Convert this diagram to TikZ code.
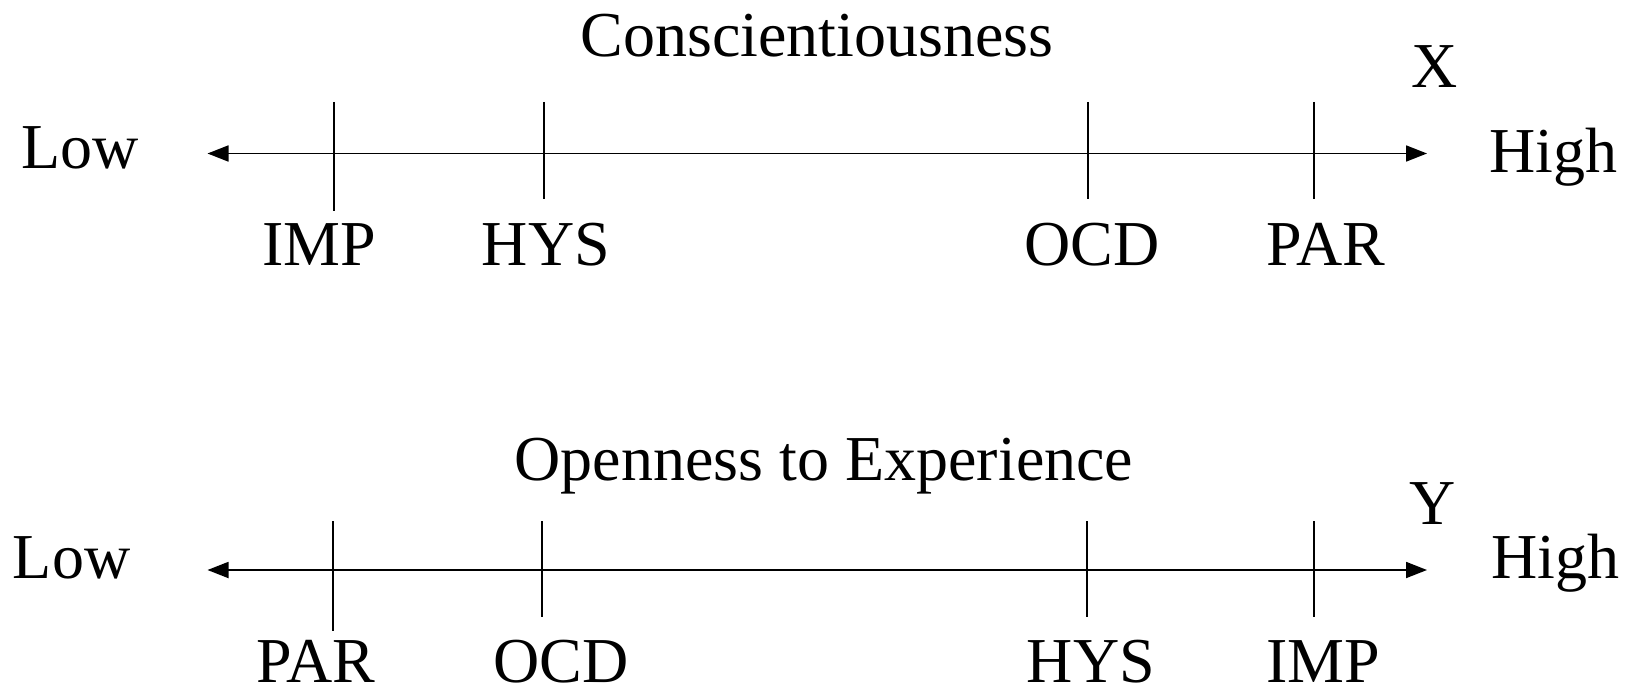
\documentclass[tikz,border=0pt]{standalone}
\usepackage{fontspec}
\setmainfont{Liberation Serif}
\usetikzlibrary{arrows.meta}
\begin{document}
\begin{tikzpicture}[x=0.5pt,y=-0.5pt,
  lbl/.style={anchor=base,inner sep=0pt,font=\fontsize{32}{38}\selectfont},
  lblw/.style={anchor=base west,inner sep=0pt,font=\fontsize{32}{38}\selectfont},
  axisline/.style={line width=0.9pt,{Triangle[length=10.5pt,width=8pt]}-{Triangle[length=10.5pt,width=8pt]}},
  tick/.style={line width=0.9pt}]
\useasboundingbox (0,0) rectangle (1627,690);
% ---- Top scale ----
\node[lbl] (title1) at (817,57) {Conscientiousness};
\node[lbl] (X) at (1435,88) {X};
\node[lblw] (low1) at (21,169) {Low};
\node[lblw] (high1) at (1489,172) {High};
\coordinate (a1) at (207.5,153.5);
\coordinate (b1) at (1427,153.5);
\draw[axisline] (a1) -- (b1);
\coordinate (t1a) at (334,102); \coordinate (t1b) at (334,211);
\coordinate (t2a) at (544,102); \coordinate (t2b) at (544,199);
\coordinate (t3a) at (1088,102); \coordinate (t3b) at (1088,199);
\coordinate (t4a) at (1314,102); \coordinate (t4b) at (1314,199);
\draw[tick] (t1a) -- (t1b);
\draw[tick] (t2a) -- (t2b);
\draw[tick] (t3a) -- (t3b);
\draw[tick] (t4a) -- (t4b);
\node[lbl] (imp1) at (319,265) {IMP};
\node[lbl] (hys1) at (546,265) {HYS};
\node[lbl] (ocd1) at (1092,265) {OCD};
\node[lbl] (par1) at (1326,265) {PAR};
% ---- Bottom scale ----
\node[lbl] (title2) at (824,480) {Openness to Experience};
\node[lbl] (Y) at (1433,524) {Y};
\node[lblw] (low2) at (12.5,578) {Low};
\node[lblw] (high2) at (1491,578) {High};
\coordinate (a2) at (207.5,570);
\coordinate (b2) at (1427,570);
\draw[axisline] (a2) -- (b2);
\coordinate (u1a) at (333,521); \coordinate (u1b) at (333,631);
\coordinate (u2a) at (542,521); \coordinate (u2b) at (542,617);
\coordinate (u3a) at (1087,521); \coordinate (u3b) at (1087,617);
\coordinate (u4a) at (1314,521); \coordinate (u4b) at (1314,617);
\draw[tick] (u1a) -- (u1b);
\draw[tick] (u2a) -- (u2b);
\draw[tick] (u3a) -- (u3b);
\draw[tick] (u4a) -- (u4b);
\node[lbl] (par2) at (316,682) {PAR};
\node[lbl] (ocd2) at (561,682) {OCD};
\node[lbl] (hys2) at (1091,682) {HYS};
\node[lbl] (imp2) at (1323,682) {IMP};
\end{tikzpicture}
\end{document}
